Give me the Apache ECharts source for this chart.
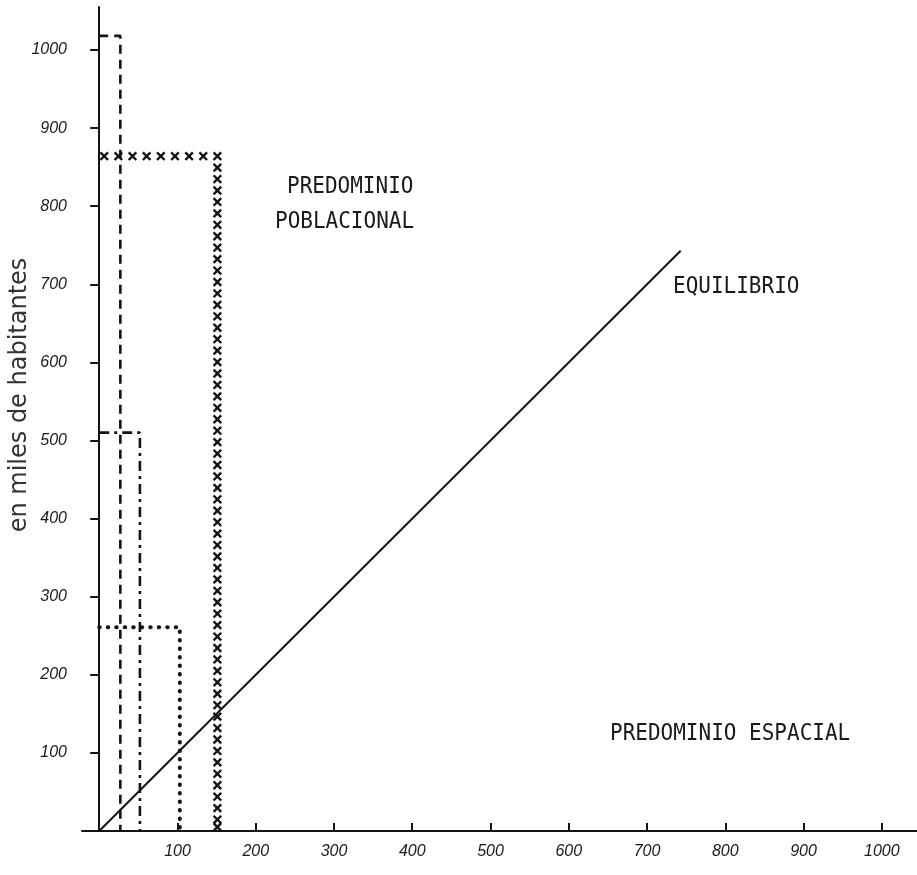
<!DOCTYPE html>
<html>
<head>
<meta charset="utf-8">
<script src="https://cdn.jsdelivr.net/npm/echarts@6/dist/echarts.min.js"></script>
<style>
html,body{margin:0;padding:0;background:#fff;}
#chart{width:917px;height:875px;}
</style>
</head>
<body>
<div id="chart"></div>
<script>
// ---- data ----
const xTickValues = [100, 200, 300, 400, 500, 600, 700, 800, 900, 1000];
const yTickValues = [100, 200, 300, 400, 500, 600, 700, 800, 900, 1000];
// rectangles: [width (x), height (y)]
const dashedRect  = [27, 1018];
const dashDotRect = [52, 510];
const dottedRect  = [103, 261];
const crossRect   = [151, 864];
// equilibrium diagonal
const equilibrioLine = [[0, 0], [743, 743]];

const yAxisName = 'en miles de habitantes';
const regionLabels = ['PREDOMINIO', 'POBLACIONAL', 'EQUILIBRIO', 'PREDOMINIO ESPACIAL'];

function rectPath(r) { return [[0, r[1]], [r[0], r[1]], [r[0], 0]]; }

const ink = '#141414';
const chart = echarts.init(document.getElementById('chart'));

function crossRender(params, api) {
  const w = api.value(0), h = api.value(1);
  const a = api.coord([0, h]), b = api.coord([w, h]), c = api.coord([w, 0]);
  const children = [];
  const s = 3.8;
  function glyph(x, y) {
    children.push({type: 'line', shape: {x1: x - s, y1: y - s, x2: x + s, y2: y + s}, style: {stroke: ink, lineWidth: 2.4}});
    children.push({type: 'line', shape: {x1: x - s, y1: y + s, x2: x + s, y2: y - s}, style: {stroke: ink, lineWidth: 2.4}});
  }
  function seg(p, q, step) {
    const dx = q[0] - p[0], dy = q[1] - p[1];
    const len = Math.sqrt(dx * dx + dy * dy);
    const n = Math.max(1, Math.round(len / step));
    for (let i = 0; i < n; i++) {
      const t = i / n;
      glyph(p[0] + dx * t, p[1] + dy * t);
    }
  }
  seg([a[0] + 5, a[1]], b, 14);
  seg(b, c, 11.5);
  glyph(c[0], c[1] - 4);
  return {type: 'group', children: children};
}

const monoFont = '"DejaVu Sans Mono", "Liberation Mono", monospace';
const tickFont = {color: '#1a1a1a', fontFamily: '"Liberation Sans", sans-serif', fontSize: 16, fontStyle: 'italic'};

chart.setOption({
  animation: false,
  backgroundColor: '#ffffff',
  grid: {left: 82, right: 0, top: 7, bottom: 44, containLabel: false},
  xAxis: {
    type: 'value', min: -22, max: 1045,
    splitLine: {show: false},
    axisLine: {show: true, onZero: true, lineStyle: {color: ink, width: 2}},
    axisTick: {show: true, inside: true, length: 8, customValues: xTickValues, lineStyle: {color: ink, width: 2}},
    axisLabel: Object.assign({customValues: xTickValues, margin: 13, formatter: v => String(v)}, tickFont)
  },
  yAxis: {
    type: 'value', min: 0, max: 1055,
    splitLine: {show: false},
    axisLine: {show: true, onZero: true, lineStyle: {color: ink, width: 2}},
    axisTick: {show: true, inside: false, length: 9, customValues: yTickValues, lineStyle: {color: ink, width: 2}},
    axisLabel: Object.assign({customValues: yTickValues, margin: 15, formatter: v => String(v)}, tickFont)
  },
  series: [
    {type: 'line', data: equilibrioLine, showSymbol: false, silent: true,
     lineStyle: {color: ink, width: 2}},
    {type: 'line', data: rectPath(dashedRect), showSymbol: false, silent: true,
     lineStyle: {color: ink, width: 2.6, type: [9, 6]}},
    {type: 'line', data: rectPath(dashDotRect), showSymbol: false, silent: true,
     lineStyle: {color: ink, width: 2.6, type: [10, 5, 3, 5]}},
    {type: 'line', data: rectPath(dottedRect), showSymbol: false, silent: true,
     lineStyle: {color: ink, width: 4, type: [0.5, 8], cap: 'round'}},
    {type: 'custom', data: [crossRect], renderItem: crossRender, silent: true, z: 3}
  ],
  graphic: [
    {type: 'text', left: 287, top: 175, style: {text: regionLabels[0], font: '21px ' + monoFont, fill: '#1a1a1a'}, scaleY: 1.12},
    {type: 'text', left: 275, top: 210, style: {text: regionLabels[1], font: '21px ' + monoFont, fill: '#1a1a1a'}, scaleY: 1.12},
    {type: 'text', left: 673, top: 275, style: {text: regionLabels[2], font: '21px ' + monoFont, fill: '#1a1a1a'}, scaleY: 1.12},
    {type: 'text', left: 610, top: 722, style: {text: regionLabels[3], font: '21px ' + monoFont, fill: '#1a1a1a'}, scaleY: 1.12},
    {type: 'text', x: 20, y: 395, rotation: Math.PI / 2,
     style: {text: yAxisName, font: '24px "DejaVu Sans", sans-serif', fill: '#333', align: 'center', verticalAlign: 'middle'}}
  ]
});
</script>
</body>
</html>
